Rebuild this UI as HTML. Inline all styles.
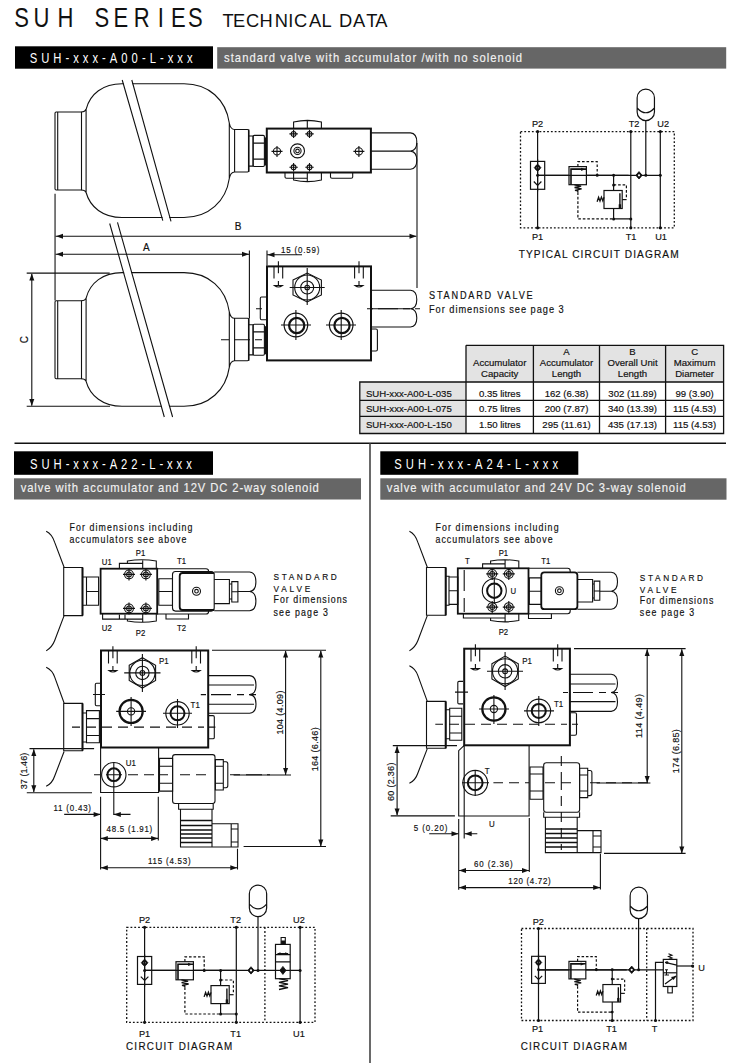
<!DOCTYPE html>
<html><head><meta charset="utf-8"><style>
html,body{margin:0;padding:0;background:#fff;width:748px;height:1063px;overflow:hidden}
svg{display:block;position:absolute;left:0;top:0}
text{font-family:"Liberation Sans",sans-serif;fill:#111;stroke:#111;stroke-width:0.18px;stroke-dasharray:none}
.w{fill:#fff;stroke:none}
.g{fill:#f2f2f2;stroke:#f2f2f2;stroke-width:0.15px}
.ns text{stroke:none}
.ln{stroke:#111;fill:none}
</style></head><body>
<svg width="748" height="1063" viewBox="0 0 748 1063">
<!-- HEADER -->
<g class="ns" font-size="27.5" fill="#111"><text transform="translate(14.3,27.3) scale(0.8,1)">S</text><text transform="translate(33.4,27.3) scale(0.8,1)">U</text><text transform="translate(57.5,27.3) scale(0.8,1)">H</text><text transform="translate(94.6,27.3) scale(0.8,1)">S</text><text transform="translate(113.6,27.3) scale(0.8,1)">E</text><text transform="translate(133.7,27.3) scale(0.8,1)">R</text><text transform="translate(157.7,27.3) scale(0.8,1)">I</text><text transform="translate(171.1,27.3) scale(0.8,1)">E</text><text transform="translate(188.0,27.3) scale(0.8,1)">S</text></g>
<g class="ns" font-size="18.3" fill="#111"><text x="222.5" y="26.6">T</text><text x="232.9" y="26.6">E</text><text x="245.9" y="26.6">C</text><text x="259.4" y="26.6">H</text><text x="274.7" y="26.6">N</text><text x="288.3" y="26.6">I</text><text x="294.1" y="26.6">C</text><text x="309.0" y="26.6">A</text><text x="321.5" y="26.6">L</text><text x="338.9" y="26.6">D</text><text x="352.9" y="26.6">A</text><text x="366.2" y="26.6">T</text><text x="375.2" y="26.6">A</text></g>
<rect x="15" y="46.3" width="198" height="22.4" fill="#000"/>
<text class="w" transform="translate(29.7,63) scale(0.75,1)" font-size="15" textLength="217.1" lengthAdjust="spacing">SUH-xxx-A00-L-xxx</text>
<rect x="217.2" y="47.2" width="509" height="21.4" fill="#666"/>
<text class="g" transform="translate(224,62) scale(0.9,1)" font-size="12.5" textLength="331.1" lengthAdjust="spacing">standard valve with accumulator /with no solenoid</text>


<!-- SECTION 1 DRAWINGS -->
<defs>
<g id="acc">
<path d="M56.2,112 H81.5 V190 H56.2 Q55,190 55,188.8 V113.2 Q55,112 56.2,112 Z M57.7,112 V190"/>
<path d="M81.5,112 Q85,112 86.1,109.3 C90,94 103,83.8 122,83.8 H184 C209,83.8 226,100 229.3,123 Q230.5,129.5 234.6,129.5 H247.5 Q248.7,129.5 248.7,131 V170.5 Q248.7,172 247.5,172 H234.6 Q230.5,172 229.3,178.5 C226,201 209,217.5 184,217.5 H122 C103,217.5 90,207 86.1,192.5 Q85,190 81.5,190 M86.1,109.3 V192.5 M229.3,123 V178.5 M234.6,129.5 V172"/>
<path d="M248.7,136 H253.1 V166.1 H248.7"/><rect x="253.1" y="135.4" width="11.3" height="31.1" rx="1.2"/><path d="M253.1,143.1 H264.4 M253.1,159.1 H264.4"/><path d="M265.6,137.4 V165.5" stroke-width="1.6"/><path d="M248.7,129.5 V172" stroke-width="1.5"/>
</g>
<g id="xh"><circle r="3.6" fill="none"/><path d="M-5.5,0 H5.5 M0,-5.5 V5.5"/></g>
<g id="xhs"><circle r="2.4" fill="none"/><path d="M-4.2,0 H4.2 M0,-4.2 V4.2"/></g>
<g id="drain"><path d="M-4.4,0 V12.6 M4.3,0 V12.6 M0,-4.8 V7.2"/><path d="M0,15 V19 M-4,19.5 Q0,22.5 4,19.5 Z" /></g>
</defs>
<g stroke="#111" stroke-width="1.1" fill="none">
<use href="#acc"/>
<use href="#acc" transform="translate(0,188.8)"/>
<path d="M122.8,80 L131.2,80 L170.4,221.4 L163.4,220.6 Z M110.3,223.5 L116.9,222.4 L172,417 L164.9,417 Z" fill="#fff" stroke="none"/>
<!-- break lines upper -->
<path d="M122.2,80 L162.8,220.6 M131.8,80 L171,221.4" fill="none"/>
<!-- break lines lower -->
<path d="M109.7,223.5 L164.3,417 M117.5,222.4 L172.6,417"/>
</g>
<!-- white masks over body where break lines cross: draw body gap -->
<g stroke="#111" stroke-width="1.1" fill="none">
<!-- upper block -->
<rect x="266.8" y="128.6" width="104.1" height="43.9" stroke-width="2"/>
<path d="M293.6,128.6 V122 Q307.5,118.8 321.4,122 V128.6 M307.3,120 V128.6"/>
<path d="M285,172.5 V177 Q285,178.2 286.5,178.2 H307.3 M293.6,172.5 V180 Q307.5,183.2 321.4,180 V172.5 M307.3,172.5 V181.6 M330.5,172.5 V177 Q330.5,178.2 332,178.2 H351.2 Q352.7,178.2 352.7,177 V172.5"/>
<path d="M370.9,132.9 H410.5 Q416.8,133.5 416.8,142 Q416.8,150.5 410.5,151.1 H370.9 M410.5,151.1 Q416.8,151.7 416.8,160.2 Q416.8,168.7 410.5,169.3 H370.9"/>
<path d="M417,143 V288"/>
<use href="#xhs" x="293.6" y="133.9"/><use href="#xhs" x="309.5" y="133.9"/>
<use href="#xhs" x="293.6" y="167.3"/><use href="#xhs" x="309.5" y="167.3"/>
<use href="#xh" x="277" y="151.4"/><use href="#xh" x="358.9" y="151.4"/>
<circle cx="297.5" cy="150.9" r="7"/><circle cx="297.5" cy="150.9" r="3.6"/><circle cx="297.5" cy="150.9" r="1.8"/>

<!-- dimension lines -->
<path d="M55.05,193.7 V300.5"/>
<path d="M55.5,236.3 H416.3 M55.5,254.2 H249"/>
<path d="M249.4,250.6 V318.6"/>
<path d="M26.7,273.1 H109.7 M26.7,406.3 H110 M31.8,274 V405.5"/>
<path d="M267,250.6 V265.5 M267.5,254.7 H302"/>
</g>
<g fill="#111">
<path d="M56,236.3 L63,233.8 V238.8 Z"/>
<path d="M416.5,236.3 L409.5,233.8 V238.8 Z"/>
<path d="M56,254.2 L63,251.7 V256.7 Z"/>
<path d="M249,254.2 L242,251.7 V256.7 Z"/>
<path d="M267.5,254.7 L274.5,252.2 V257.2 Z"/>
<path d="M31.8,273.5 L29.3,280.5 H34.3 Z"/>
<path d="M31.8,406 L29.3,399 H34.3 Z"/>
</g>
<g font-size="10">
<text x="146.3" y="250.6" text-anchor="middle">A</text>
<text x="238" y="230" text-anchor="middle">B</text>
<text transform="translate(27.8,339.6) rotate(-90)" text-anchor="middle">C</text>
<text transform="translate(281,252.8) scale(0.88,1)" font-size="9" textLength="43.6" lengthAdjust="spacing">15 (0.59)</text>
</g>
<g stroke="#111" stroke-width="1.1" fill="none">
<!-- lower block -->
<rect x="267" y="266.4" width="104" height="94" stroke-width="2"/>
<path d="M266,297 H261.5 Q260.3,297 260.3,298.5 V318.2 Q260.3,319.7 261.5,319.7 H266"/>
<path d="M372,329 H376 Q377.4,329 377.4,330.5 V349.5 Q377.4,351 376,351 H372"/>
<path d="M371,290.3 H410.5 Q416.8,290.9 416.8,299.5 Q416.8,308.2 410.5,308.8 H371 M410.5,308.8 Q416.8,309.4 416.8,318 Q416.8,326.4 410.5,327 H371"/>
<path d="M367,308.8 H373 M378,308.8 H398 M403,308.8 H410 M415,308.8 H420"/>
<path d="M256,308.8 H262 M221,339.7 H229 M234,339.7 H250 M255,339.7 H262"/>
<use href="#drain" x="278.4" y="266"/>
<use href="#drain" x="359" y="266"/>
<path d="M293,280 L307.2,273 L321.4,280 V295 L307.2,302 L293,295 Z"/>
<circle cx="307.2" cy="287.5" r="12.5"/><circle cx="307.2" cy="287.5" r="6.5"/><circle cx="307.2" cy="287.5" r="2.3"/>
<path d="M289.7,287.5 H324.7 M307.2,268 V305"/>
<circle cx="295.9" cy="325" r="11.8" stroke-width="1.2"/><circle cx="296.7" cy="325.5" r="7.6" stroke-width="2.2"/>
<path d="M281,325 H311 M295.9,310 V340"/>
<circle cx="341.2" cy="325" r="11.8" stroke-width="1.2"/><circle cx="342.0" cy="325.5" r="7.6" stroke-width="2.2"/>
<path d="M326,325 H356 M341.2,310 V340"/>
</g>
<g font-size="9.6">
<text transform="translate(429,298.7) scale(0.88,1)" font-size="10.4" textLength="117.8" lengthAdjust="spacing">STANDARD VALVE</text>
<text transform="translate(429,313.2) scale(0.88,1)" font-size="10.5" textLength="153.1" lengthAdjust="spacing">For dimensions see page 3</text>
</g>

<!-- CIRCUITS -->
<defs>
<g id="circL">
<!-- check valve -->
<rect x="-7.1" y="-13.9" width="14.2" height="27.9" fill="#fff"/>
<path d="M0,-11.4 L3.5,-7.6 L0,-3.8 L-3.5,-7.6 Z" fill="#111" stroke-width="0.5"/>
<circle cx="0" cy="-7.6" r="2.6" fill="#111" stroke="none"/><circle cx="0" cy="-7.6" r="1" fill="#fff" stroke="none"/>
<path d="M-3.8,6.2 L0,10 L3.8,6.2" fill="none"/>
<path d="M0,-16 V16"/>
<!-- main line -->
<path d="M0,0 H31.4 M49,0 H91"/>
<!-- relief valve -->
<rect x="31.4" y="-8.7" width="17.4" height="18.1" fill="#fff"/>
<path d="M33.4,9.4 V-6.2 H48.8" stroke-width="1.6"/>
<path d="M34,-6 H45" stroke-width="1"/><path d="M47.5,-6 L43.5,-7.6 V-4.4 Z" fill="#111" stroke="none"/>
<path d="M36.8,9.5 L43.5,10.8 L37,12.2 L44,13.6 L37.4,15 L40.2,15.6 V17" stroke-width="1.3"/>
<g stroke-dasharray="2.6 1.9" stroke-width="1.2">
<path d="M40.3,-8.7 V-13.6 H59.6 V0"/>
<path d="M40.3,17 V43.6 H76"/>
<path d="M76,9.6 H88.8 V22"/>
</g>
<!-- 2nd valve -->
<path d="M76,0 V15.2 M76,33.2 V43.6"/>
<rect x="66.4" y="15.2" width="18.2" height="18" fill="#fff"/>
<path d="M82.3,18 V33" stroke-width="1.4"/><path d="M82.3,29 V33" stroke-width="2.4"/>
<path d="M84.6,24.3 H89"/>
<path d="M59.5,26.5 L61,22 L62.4,25.8 L63.8,21.8 L65.2,25.5 L66.4,22" stroke-width="1.3"/>
<circle cx="59.6" cy="0" r="1.5" fill="#111" stroke="none"/>
<circle cx="76" cy="0" r="1.5" fill="#111" stroke="none"/>
<circle cx="76" cy="9.6" r="1.5" fill="#111" stroke="none"/>
<circle cx="76" cy="43.6" r="1.5" fill="#111" stroke="none"/>
<circle cx="0" cy="0" r="1.5" fill="#111" stroke="none"/>
</g>
<g id="diam"><path d="M0,-3.7 L3.2,0 L0,3.7 L-3.2,0 Z" fill="#111" stroke-width="0.8"/><circle r="2.4" fill="#111" stroke="none"/><circle r="1.1" fill="#fff" stroke="none"/></g>
<g id="accs"><path d="M-8.65,8.7 A8.65,8.65 0 0 1 8.65,8.7 V22.9 A8.65,8.65 0 0 1 -8.65,22.9 Z M-8.65,19 Q0,28.5 8.65,19" fill="#fff"/></g>
</defs>
<g stroke="#111" stroke-width="1.2" fill="none">
<!-- C1 -->
<rect x="520.5" y="131.6" width="153.8" height="96.2" stroke-dasharray="1.8 2" stroke-width="1.3"/>
<use href="#circL" transform="translate(537.6,175.3)"/>
<path d="M537.6,131.6 V227.8 M630.8,131.6 V227.8 M660.3,131.6 V227.8 M613.6,218.9 H630.8 M537.6,175.3 H660.3"/>
<use href="#diam" x="639" y="175.3"/>
<path d="M645.8,120.6 V175.3"/>
<use href="#accs" x="645.8" y="89"/>
<g fill="#111" stroke="none">
<circle cx="537.6" cy="131.6" r="1.6"/><circle cx="537.6" cy="227.8" r="1.6"/>
<circle cx="630.8" cy="131.6" r="1.6"/><circle cx="630.8" cy="227.8" r="1.6"/><circle cx="630.8" cy="218.9" r="1.5"/>
<circle cx="660.3" cy="131.6" r="1.6"/><circle cx="660.3" cy="227.8" r="1.6"/><circle cx="660.3" cy="175.3" r="1.5"/>
<circle cx="645.8" cy="175.3" r="1.5"/>
</g>
</g>
<g font-size="9.2" text-anchor="middle" fill="#111">
<text x="537.6" y="127.3">P2</text><text x="634" y="127.3">T2</text><text x="663.2" y="127.3">U2</text>
<text x="537.6" y="240">P1</text><text x="631" y="240">T1</text><text x="661" y="240">U1</text>
</g>
<text transform="translate(518.7,257.8) scale(0.88,1)" font-size="11.5" textLength="181.8" lengthAdjust="spacing">TYPICAL CIRCUIT DIAGRAM</text>

<!-- SECTION 2 DRAWINGS -->
<defs>
<g id="bolt"><circle r="4.4"/><circle r="2.4"/><path d="M-6,0 H6 M0,-6 V6"/></g>
<g id="arrR"><path d="M0,0 L-7,-2.5 V2.5 Z" fill="#111" stroke="none"/></g>
<g id="arrL"><path d="M0,0 L7,-2.5 V2.5 Z" fill="#111" stroke="none"/></g>
<g id="arrU"><path d="M0,0 L-2.5,7 H2.5 Z" fill="#111" stroke="none"/></g>
<g id="arrD"><path d="M0,0 L-2.5,-7 H2.5 Z" fill="#111" stroke="none"/></g>
</defs>
<g stroke="#111" stroke-width="1.1" fill="none">
<!-- plan view -->
<path d="M46.2,531.2 C50,533 53,537 54.7,542.4 L64.1,567.2 M64.1,615.6 L54.7,640.5 C53,645 50,648.5 46.2,650.9"/>
<path d="M63.7,567.5 H82.5 V615.6 H63.7 Z"/><path d="M82.5,567.5 V615.6" stroke-width="2"/>
<path d="M82.5,577 H98.6 V605.2 H82.5 M86.5,577 V605.2 M86.5,591.5 H98.6"/>
<rect x="100.6" y="568.7" width="56.6" height="45" stroke-width="1.8"/>
<path d="M119.4,568.7 V563.4 H142.7 V568.7 M127.4,563.4 V561 Q141.8,558.6 156.3,561 V568.7 M142.7,560 V568.7"/>
<path d="M102.6,613.7 V619.1 H142.7 V613.7 M127.4,619.1 V621 Q141.8,623.6 156.3,621 V613.7 M142.7,613.7 V622.5 M119.4,614.5 V619 H125 V614.5"/>
<use href="#bolt" x="129" y="574.4"/><use href="#bolt" x="145.9" y="574.4"/>
<use href="#bolt" x="129" y="608.4"/><use href="#bolt" x="145.9" y="608.4"/>
<path d="M157.2,568.7 H206 Q208.6,568.7 208.6,571.3 V611.4 Q208.6,614 206,614 H157.2"/>
<path d="M158.8,578.7 H172.5 V605.2 H158.8 Z M158.8,591.5 H172.5"/>
<rect x="172.5" y="571.5" width="41.7" height="39.6" rx="3" fill="#fff"/>
<path d="M214.2,573 H182.5 Q179.7,573 179.7,576 V607 Q179.7,610 182.5,610 H214.2" stroke-width="1.8"/>
<circle cx="196.5" cy="591.2" r="4"/><circle cx="196.5" cy="591.2" r="1.8"/>
<path d="M214.2,572 H249.6 Q255.9,572.6 255.9,581.8 Q255.9,590.9 249.6,591.5 H237.9 M249.6,591.5 Q255.9,592.1 255.9,601.1 Q255.9,610.2 249.6,610.8 H214.2"/>
<path d="M214.2,579.5 H229.4 V603.6 H214.2 M231.8,581.6 H237.9 V602 H231.8 Z M229.4,584 H231.8 M229.4,599 H231.8 M231.8,591.8 H237.9"/>
<path d="M166,614 V619 H188.5 V614"/>
</g>
<g font-size="8.8" fill="#111">
<text transform="translate(101.8,565) scale(0.88,1)">U1</text>
<text transform="translate(135.8,555.9) scale(0.88,1)">P1</text>
<text transform="translate(177,564) scale(0.88,1)">T1</text>
<text transform="translate(101.8,630.8) scale(0.88,1)">U2</text>
<text transform="translate(135.8,635.6) scale(0.88,1)">P2</text>
<text transform="translate(177,630.8) scale(0.88,1)">T2</text>
</g>
<g font-size="10" fill="#111">
<text transform="translate(69.4,531) scale(0.88,1)" textLength="139.8" lengthAdjust="spacing">For dimensions including</text>
<text transform="translate(69.4,543) scale(0.88,1)" textLength="133.0" lengthAdjust="spacing">accumulators see above</text>
<text transform="translate(273.5,580) scale(0.88,1)" font-size="9.4" textLength="71.9" lengthAdjust="spacing">STANDARD</text>
<text transform="translate(273.5,591.8) scale(0.88,1)" font-size="9.4" textLength="41.8" lengthAdjust="spacing">VALVE</text>
<text transform="translate(273.5,603.3) scale(0.88,1)" textLength="83.5" lengthAdjust="spacing">For dimensions</text>
<text transform="translate(273.5,615.7) scale(0.88,1)" textLength="61.7" lengthAdjust="spacing">see page 3</text>
</g>
<g stroke="#111" stroke-width="1.1" fill="none">
<!-- elevation -->
<path d="M46.2,667.2 C50,669 53,672 54.7,677.1 L64.1,703 M64.1,751.5 L54.7,776 C53,781 50,784.5 46.2,786.3"/>
<path d="M63.7,703.4 H82.5 V750.7 H63.7 Z"/><path d="M82.5,703.4 V750.7" stroke-width="2"/>
<path d="M82.5,713 H86.5 V742 H82.5 M86.5,710.6 H99.4 V742.7 H86.5 Z M86.5,718.6 H99.4 M86.5,735.5 H99.4"/>
<rect x="101" y="650.5" width="107.2" height="97" stroke-width="2"/>
<path d="M100,683.3 H96.5 Q95.3,683.3 95.3,684.5 V704.6 Q95.3,705.8 96.5,705.8 H100 M93,694.5 H105"/>
<use href="#drain" x="112.9" y="651"/>
<use href="#drain" x="196.2" y="651"/>
<path d="M129.2,665.3 L142.4,657.7 L155.6,665.3 V680.5 L142.4,688.1 L129.2,680.5 Z"/>
<circle cx="142.4" cy="672.9" r="12.6"/><circle cx="142.4" cy="672.9" r="6.7"/><circle cx="142.4" cy="672.9" r="2.4"/>
<path d="M124.2,672.9 H160.5 M142.4,654 V692"/>
<circle cx="131.1" cy="711.4" r="11.6" stroke-width="2.2"/><circle cx="131.1" cy="711.4" r="3.6"/>
<path d="M116.2,711.4 H146 M131.1,697 V726"/>
<circle cx="177.5" cy="713.3" r="11.7"/><circle cx="177.5" cy="713.3" r="7" stroke-width="2"/>
<path d="M163,713.3 H192 M177.5,699 V728"/>
<path d="M72,727.1 H80 M86,727.1 H96 M102,727.1 H112 M118,727.1 H128 M134,727.1 H144 M150,727.1 H160 M166,727.1 H176 M182,727.1 H192 M198,727.1 H204 M209,727.1 H215.4"/>
<path d="M208.2,675.6 H249.7 Q256,676.2 256,685 Q256,694 249.7,694.6 Q256,695.2 256,704 Q256,712.7 249.7,713.3 H208.2 M208.2,685 H254 M208.2,704.3 H254"/>
<path d="M200.8,694.6 H206 M211,694.6 H231 M237,694.6 H244 M249,694.6 H256"/>
<path d="M209,715.6 H213 Q214.3,715.6 214.3,717 V737.5 Q214.3,738.8 213,738.8 H209"/>
<path d="M100.6,747.5 V792.5 H158.6 V747.5"/>
<circle cx="113.8" cy="774.7" r="12.2"/><circle cx="113.8" cy="774.7" r="6.4" stroke-width="2"/>
<path d="M113.8,762 V814.9"/>
<path d="M94,774.7 H100 M106,774.7 H122 M128,774.7 H138 M144,774.7 H154 M160,774.7 H168 M180,774.7 H190 M196,774.7 H206 M230,774.7 H240 M246,774.7 H262 M267,774.7 H270"/>
<path d="M159.5,758.4 H172.6 V791.1 H159.5 Z M159.5,766.3 H172.6 M159.5,783.2 H172.6"/>
<rect x="172.6" y="754.6" width="42.4" height="48.9" rx="2.5" fill="none"/>
<path d="M215.4,759.6 H223.3 V790 H215.4 Z M215.4,766.3 H223.3 M215.4,783.2 H223.3 M223.3,761.8 H226 Q227.8,761.8 227.8,764 V785.6 Q227.8,787.8 226,787.8 H223.3"/>
<path d="M178.6,803.5 V809.2 H213.2 V803.5 M180.5,809.2 V847 H231.2 V823.8 H212 M212,809.2 V847 M231.2,823.8 H238 V847 H231.2 M231.2,829 H238 M231.2,842 H238"/>
<path d="M180.5,820.5 H212 M180.5,825.5 H212 M180.5,830 H212 M180.5,834 H212 M180.5,838 H212 M180.5,842.5 H212" stroke-width="1.5"/>
<!-- dims -->
<path d="M29.5,748.6 H94.1 M26.8,792.8 H92 M33.8,749.5 V792"/>
<path d="M64.2,814.4 H100 M113.8,814.4 H130.5"/>
<path d="M100.6,796.7 V869.4 M158.3,796.7 V840.5 M237.5,848.7 V869.4 M101,838.4 H158 M101,867.7 H237"/>
<path d="M212,650.3 H326 M233.6,775 H291 M243.6,846.5 H326 M285.6,651 V774.5 M320.8,651 V846"/>
</g>
<g>
<use href="#arrU" x="33.8" y="749"/><use href="#arrD" x="33.8" y="792.3"/>
<use href="#arrR" x="100.6" y="814.4"/><use href="#arrL" x="113.8" y="814.4"/>
<use href="#arrL" x="100.8" y="838.4"/><use href="#arrR" x="158.1" y="838.4"/>
<use href="#arrL" x="100.8" y="867.7"/><use href="#arrR" x="237.3" y="867.7"/>
<use href="#arrU" x="285.6" y="650.5"/><use href="#arrD" x="285.6" y="775"/>
<use href="#arrU" x="320.8" y="650.5"/><use href="#arrD" x="320.8" y="846.5"/>
</g>
<g font-size="9" fill="#111">
<text transform="translate(159,664.4) scale(0.88,1)">P1</text>
<text transform="translate(190.6,707.7) scale(0.88,1)">T1</text>
<text transform="translate(125.8,765.7) scale(0.88,1)">U1</text>
<text transform="translate(53.5,810.6) scale(0.88,1)" textLength="42.6" lengthAdjust="spacing">11 (0.43)</text>
<text transform="translate(106.6,832.4) scale(0.88,1)" textLength="51.9" lengthAdjust="spacing">48.5 (1.91)</text>
<text transform="translate(148,863.6) scale(0.88,1)" textLength="48.4" lengthAdjust="spacing">115 (4.53)</text>
<text transform="translate(27.2,771) rotate(-90)" text-anchor="middle" textLength="36.4" lengthAdjust="spacing">37 (1.46)</text>
<text transform="translate(283.3,712.6) rotate(-90)" text-anchor="middle" textLength="44" lengthAdjust="spacing">104 (4.09)</text>
<text transform="translate(317.7,749.3) rotate(-90)" text-anchor="middle" textLength="44" lengthAdjust="spacing">164 (6.46)</text>
</g>
<!-- CIRCUIT 2 -->
<g stroke="#111" stroke-width="1.2" fill="none">
<rect x="126.7" y="927.3" width="188.3" height="95" stroke-dasharray="1.8 2" stroke-width="1.3"/>
<path d="M264.9,927.3 V1022.3" stroke-dasharray="1.8 2" stroke-width="1.3"/>
<use href="#circL" transform="translate(144.6,970.4)"/>
<path d="M144.6,927.3 V1022.3 M236.3,927.3 V1022.3 M300.1,927.3 V1022.3 M144.6,970.4 H300.1 M220.6,1014 H236.3"/>
<use href="#diam" x="251" y="970.4"/>
<path d="M258,915.9 V970.4"/>
<use href="#accs" x="258" y="885.1"/>
<rect x="275.5" y="944.4" width="14.7" height="34.3" fill="#fff"/>
<path d="M275.5,961.8 H290.2 M275.5,954.6 H290.2 M277.5,953.6 H288.2"/>
<path d="M281.1,944.4 V937.5 H285.3 V944.4" stroke-width="1.1"/><rect x="281.1" y="940.5" width="4.2" height="4" fill="#111" stroke="none"/>
<path d="M277.3,950.3 H290 M277.3,957 H290" stroke="none"/>
<path d="M282.9,966.4 L286,970.4 L282.9,974.4 L279.8,970.4 Z" fill="#111" stroke-width="0.8"/>
<path d="M275.5,970.4 H290.2"/>
<path d="M279,978.7 L288,980.5 L279,982.3 L288,984.1 L279,985.9 L288,987.7 L279,989.5" stroke-width="1.3"/>
<g fill="#111" stroke="none">
<path d="M277.5,953.6 L280.5,952.2 V955 Z M288.2,953.6 L285.2,952.2 V955 Z"/>
<circle cx="144.6" cy="927.3" r="1.6"/><circle cx="144.6" cy="1022.3" r="1.6"/>
<circle cx="236.3" cy="927.3" r="1.6"/><circle cx="236.3" cy="1022.3" r="1.6"/><circle cx="236.3" cy="1014" r="1.5"/>
<circle cx="300.1" cy="927.3" r="1.6"/><circle cx="300.1" cy="1022.3" r="1.6"/><circle cx="300.1" cy="970.4" r="1.5"/>
<circle cx="258" cy="970.4" r="1.5"/>
</g>
</g>
<g font-size="9.2" text-anchor="middle" fill="#111">
<text x="144.6" y="922.7">P2</text><text x="235.7" y="922.7">T2</text><text x="298.9" y="922.7">U2</text>
<text x="144.6" y="1037">P1</text><text x="235.7" y="1037">T1</text><text x="298.9" y="1037">U1</text>
</g>
<text transform="translate(126,1049.7) scale(0.88,1)" font-size="11.2" textLength="120.7" lengthAdjust="spacing">CIRCUIT DIAGRAM</text>

<!-- SECTION 3 DRAWINGS -->
<g stroke="#111" stroke-width="1.1" fill="none">
<!-- plan view -->
<path d="M409.4,531.2 C413.2,533 416.2,537 417.9,542.4 L427.3,567.2 M427.3,615.6 L417.9,640.5 C416.2,645 413.2,648.5 409.4,650.9"/>
<path d="M426.5,567.5 H445.7 V615.3 H426.5 Z"/><path d="M445.7,567.5 V615.3" stroke-width="2"/>
<path d="M445.7,576.3 H449 V605.2 H445.7 M449,577 H457.8 V604.4 H449 Z M449,590.7 H457.8"/>
<rect x="457.8" y="568.3" width="70.7" height="45.4" stroke-width="1.8"/>
<path d="M464.2,570 V591 M464.2,598 V612"/>
<path d="M482.6,568.3 V563.9 H505.1 V568.3 M490.6,563.9 V561 Q504.7,558.5 518.8,561 V568.3 M505.1,560 V568.3"/>
<path d="M463.4,613.7 V618 H505.1 V613.7 M490.6,618 V620.5 Q504.7,623.3 518.8,620.5 V613.7 M505.1,613.7 V622"/>
<use href="#bolt" x="492.2" y="573.9"/><use href="#bolt" x="508.8" y="573.9"/>
<use href="#bolt" x="492.2" y="607.1"/><use href="#bolt" x="508.8" y="607.1"/>
<circle cx="494.3" cy="590.7" r="12"/><circle cx="494.3" cy="590.7" r="7.2" stroke-width="2"/>
<path d="M494.3,578 V604"/>
<path d="M528.5,568.3 H567.6 Q570.2,568.3 570.2,571 V611 Q570.2,613.7 567.6,613.7 H528.5"/>
<path d="M529.3,577.9 H541.3 V604.4 H529.3 Z M529.3,591.2 H541.3"/>
<rect x="541.3" y="572.3" width="36.1" height="36.9" rx="3" stroke-width="1.8" fill="#fff"/>
<circle cx="559.4" cy="590.7" r="4"/><circle cx="559.4" cy="590.7" r="1.8"/>
<path d="M577.4,572.3 H611.2 Q617.5,572.9 617.5,581.8 Q617.5,590.6 611.2,591.2 H599.8 M611.2,591.2 Q617.5,591.8 617.5,600.2 Q617.5,608.6 611.2,609.2 H577.4"/>
<path d="M577.4,579.5 H592.6 V602 H577.4 M594.2,581.1 H599.8 V600.3 H594.2 Z M592.6,584 H594.2 M592.6,598 H594.2 M594.2,591 H599.8"/>
<path d="M528.5,613.7 V618.5 H551.4 V613.7"/>
</g>
<g font-size="8.8" fill="#111">
<text transform="translate(465,564) scale(0.88,1)">T</text>
<text transform="translate(498.7,555.9) scale(0.88,1)">P1</text>
<text transform="translate(510.4,594.4) scale(0.88,1)">U</text>
<text transform="translate(541.3,564) scale(0.88,1)">T1</text>
<text transform="translate(498.7,634.8) scale(0.88,1)">P2</text>
</g>
<g font-size="10" fill="#111">
<text transform="translate(435.5,531) scale(0.88,1)" textLength="139.8" lengthAdjust="spacing">For dimensions including</text>
<text transform="translate(435.5,543) scale(0.88,1)" textLength="133.0" lengthAdjust="spacing">accumulators see above</text>
<text transform="translate(639.8,581) scale(0.88,1)" font-size="9.4" textLength="71.9" lengthAdjust="spacing">STANDARD</text>
<text transform="translate(639.8,592.8) scale(0.88,1)" font-size="9.4" textLength="41.8" lengthAdjust="spacing">VALVE</text>
<text transform="translate(639.8,603.9) scale(0.88,1)" textLength="83.5" lengthAdjust="spacing">For dimensions</text>
<text transform="translate(639.8,616.3) scale(0.88,1)" textLength="61.7" lengthAdjust="spacing">see page 3</text>
</g>
<g stroke="#111" stroke-width="1.1" fill="none">
<!-- elevation -->

<path d="M409.4,665.7 C413.2,667.5 416.2,670.5 417.9,675.6 L427.3,701.4 M427.3,748.6 L417.9,773 C416.2,778 413.2,781.5 409.4,783.3"/>
<path d="M426.5,701.4 H445.7 V748.3 H426.5 Z"/><path d="M445.7,701.4 V748.3" stroke-width="2"/>
<path d="M445.7,709.8 H449.7 V738.7 H445.7 M449.7,708.2 H461.8 V740.3 H449.7 Z M449.7,716.2 H461.8 M449.7,733 H461.8"/>
<rect x="464.2" y="648.7" width="105.7" height="96.6" stroke-width="2"/>
<path d="M463,681.4 H459 Q457.8,681.4 457.8,682.6 V702.7 Q457.8,703.9 459,703.9 H463 M455,692.1 H468"/>
<use href="#drain" x="475.4" y="649"/>
<use href="#drain" x="557.7" y="649"/>
<path d="M491.9,663.7 L505.1,656.1 L518.3,663.7 V678.9 L505.1,686.5 L491.9,678.9 Z"/>
<circle cx="505.1" cy="671.3" r="12.6"/><circle cx="505.1" cy="671.3" r="6.7"/><circle cx="505.1" cy="671.3" r="2.4"/>
<path d="M487,671.3 H523 M505.1,652 V690"/>
<circle cx="493.9" cy="709" r="11.6" stroke-width="2.2"/><circle cx="493.9" cy="709" r="3.6"/>
<path d="M479,709 H509 M493.9,695 V724"/>
<circle cx="538.8" cy="710.9" r="11.8"/><circle cx="538.8" cy="710.9" r="7" stroke-width="2"/>
<path d="M524,710.9 H554 M538.8,696 V726"/>
<path d="M435.3,724.2 H443 M449,724.2 H459 M465,724.2 H475 M481,724.2 H491 M497,724.2 H507 M513,724.2 H523 M529,724.2 H539 M545,724.2 H555 M561,724.2 H567 M572,724.2 H578"/>
<path d="M569.9,674.2 H611.2 Q617.5,674.8 617.5,683.3 Q617.5,691.9 611.2,692.5 Q617.5,693.1 617.5,702 Q617.5,710.8 611.2,711.4 H569.9 M569.9,684 H615.5 M569.9,701.6 H615.5"/>
<path d="M563,692.5 H568 M573,692.5 H593 M599,692.5 H606 M611,692.5 H618"/>
<path d="M571,712.8 H575 Q576.5,712.8 576.5,714.3 V733.8 Q576.5,735.3 575,735.3 H571"/>
<path d="M464.2,745.3 L458.7,750.7 V816 H529.1 V745.3 M464.2,745.3 V838.4"/>
<circle cx="475.2" cy="782.8" r="12.4"/><circle cx="475.2" cy="782.8" r="7.4" stroke-width="2"/>
<path d="M462,782.8 H489 M475.2,770 V796"/>
<path d="M493.4,782.8 H503 M509,782.8 H519 M525,782.8 H529 M545,782.8 H555 M561,782.8 H571 M590,782.8 H600 M606,782.8 H616 M622,782.8 H632 M638,782.8 H648"/>
<path d="M561.3,756 V766 M561.3,772 V790 M561.3,796 V806 M561.3,812 V822 M561.3,828 V838 M561.3,844 V850"/>
<path d="M530,767 H543 V799.3 H530 Z M530,774 H543 M530,791 H543"/>
<rect x="543.7" y="762.7" width="35.9" height="49.6" rx="2.5"/>
<path d="M579.6,768.3 H587.7 V797.6 H579.6 Z M579.6,775 H587.7 M579.6,791 H587.7 M587.7,770.5 H590 Q591.9,770.5 591.9,772.5 V793.6 Q591.9,795.6 590,795.6 H587.7"/>
<path d="M543.7,812.3 V817.2 H579.6 V812.3 M545.4,817.2 V852.6 H593 V830.6 H577.2 M577.2,817.2 V852.6 M593,830.6 H601 V852.6 H593 M593,836 H601 M593,847 H601"/>
<path d="M545.4,829 H577.2 M545.4,833.5 H577.2 M545.4,838 H577.2 M545.4,842.5 H577.2 M545.4,847 H577.2" stroke-width="1.5"/>
<!-- dims -->
<path d="M392.8,745.6 H457 M390.7,815.9 H454.9 M397.1,746.5 V815"/>
<path d="M429.2,833.7 H458.5 M464.5,833.7 H477.3"/>
<path d="M458.7,819 V889.7 M529.3,818 V872 M600.4,853.8 V889.5 M459,870.5 H529 M459,887.6 H600"/>
<path d="M574,648.6 H685.6 M596.6,783 H650.4 M604,853.4 H685.6 M647.2,649.5 V782.5 M681.8,649.5 V853"/>
</g>
<g>
<use href="#arrU" x="397.1" y="746"/><use href="#arrD" x="397.1" y="815.4"/>
<use href="#arrR" x="458.5" y="833.7"/><use href="#arrL" x="464.7" y="833.7"/>
<use href="#arrL" x="459" y="870.5"/><use href="#arrR" x="529" y="870.5"/>
<use href="#arrL" x="459" y="887.6"/><use href="#arrR" x="600.2" y="887.6"/>
<use href="#arrU" x="647.2" y="649"/><use href="#arrD" x="647.2" y="783"/>
<use href="#arrU" x="681.8" y="649"/><use href="#arrD" x="681.8" y="853.4"/>
</g>
<g font-size="9" fill="#111">
<text transform="translate(522.2,664.4) scale(0.88,1)">P1</text>
<text transform="translate(554,707.2) scale(0.88,1)">T1</text>
<text transform="translate(484.8,774.2) scale(0.88,1)">T</text>
<text transform="translate(489,826.6) scale(0.88,1)">U</text>
<text transform="translate(413.8,830.9) scale(0.88,1)" textLength="38.2" lengthAdjust="spacing">5 (0.20)</text>
<text transform="translate(474.1,867.3) scale(0.88,1)" textLength="43.8" lengthAdjust="spacing">60 (2.36)</text>
<text transform="translate(508.3,883.7) scale(0.88,1)" textLength="48.2" lengthAdjust="spacing">120 (4.72)</text>
<text transform="translate(394.1,781.8) rotate(-90)" text-anchor="middle" textLength="38.5" lengthAdjust="spacing">60 (2.36)</text>
<text transform="translate(642.4,716) rotate(-90)" text-anchor="middle" textLength="44" lengthAdjust="spacing">114 (4.49)</text>
<text transform="translate(678.6,751.2) rotate(-90)" text-anchor="middle" textLength="44" lengthAdjust="spacing">174 (6.85)</text>
</g>
<!-- CIRCUIT 3 -->
<g stroke="#111" stroke-width="1.2" fill="none">
<rect x="521.5" y="928.5" width="171.5" height="92" stroke-dasharray="1.8 2" stroke-width="1.3"/>
<path d="M646.7,928.5 V1020.5" stroke-dasharray="1.8 2" stroke-width="1.3"/>
<g transform="translate(538.5,969.8) scale(0.97)">
<use href="#circL"/>
</g>
<path d="M538.5,928.5 V1020.5 M538.5,969.8 H667 M612.2,1012 V1020.5"/>
<use href="#diam" x="631.7" y="969.8"/>
<path d="M638.6,917.1 V969.8"/>
<use href="#accs" x="638.8" y="887"/>
<path d="M655.5,1020.5 V962.4 H663.3"/>
<rect x="663.3" y="959.4" width="13.5" height="27.1" fill="#fff"/>
<path d="M663.3,972.8 H676.8"/>
<path d="M665,962.4 L676.8,965.2 M665,984 L676,976" stroke-width="1.2"/>
<path d="M665,969.8 H668 M666.5,969.8 V975 M664.5,975 H669" stroke-width="1"/>
<path d="M676.8,966 H692.6"/>
<path d="M668.5,959.4 L672,958 L668.5,956.6 L672,955.2 L668.5,953.8" stroke-width="1.1"/>
<rect x="667.8" y="986.5" width="4.5" height="6.4" stroke-width="1.1"/>
<g fill="#111" stroke="none">
<circle cx="538.5" cy="928.5" r="1.6"/><circle cx="538.5" cy="1020.5" r="1.6"/>
<circle cx="612.2" cy="1020.5" r="1.6"/><circle cx="655.5" cy="1020.5" r="1.6"/>
<circle cx="692.6" cy="966" r="1.6"/><circle cx="638.6" cy="969.8" r="1.5"/>
<circle cx="667" cy="962.6" r="1.4"/>
<path d="M676.5,976 L671,977 L673.5,980 Z"/>
</g>
</g>
<g font-size="9.2" text-anchor="middle" fill="#111">
<text x="538.3" y="925">P2</text>
<text x="537.5" y="1031.5">P1</text><text x="611.5" y="1031.5">T1</text><text x="654.5" y="1031.5">T</text>
<text x="701.6" y="970.5">U</text>
</g>
<text transform="translate(520.7,1049.7) scale(0.88,1)" font-size="11.2" textLength="120.7" lengthAdjust="spacing">CIRCUIT DIAGRAM</text>

<!-- TABLE -->
<rect x="466" y="345.3" width="257.6" height="36.7" fill="#e3e3e3"/>
<rect x="359.8" y="382" width="106.2" height="51.5" fill="#e3e3e3"/>
<g stroke="#111" stroke-width="1.3" fill="none">
<path d="M466 345.3H723.6V433.5H359.8V382H723.6M359.8 400.3H723.6M359.8 416.4H723.6M466 345.3V433.5M533.4 345.3V433.5M599.5 345.3V433.5M665.6 345.3V433.5"/>
</g>
<g font-size="9.6" text-anchor="middle">
<text x="499.7" y="366">Accumulator</text><text x="499.7" y="377">Capacity</text>
<text x="566.5" y="355">A</text><text x="566.5" y="366">Accumulator</text><text x="566.5" y="377">Length</text>
<text x="632.5" y="355">B</text><text x="632.5" y="366">Overall Unit</text><text x="632.5" y="377">Length</text>
<text x="694.6" y="355">C</text><text x="694.6" y="366">Maximum</text><text x="694.6" y="377">Diameter</text>
<text x="499.7" y="396.7">0.35 litres</text><text x="566.5" y="396.7">162 (6.38)</text><text x="632.5" y="396.7">302 (11.89)</text><text x="694.6" y="396.7">99 (3.90)</text>
<text x="499.7" y="411.6">0.75 litres</text><text x="566.5" y="411.6">200 (7.87)</text><text x="632.5" y="411.6">340 (13.39)</text><text x="694.6" y="411.6">115 (4.53)</text>
<text x="499.7" y="427.6">1.50 litres</text><text x="566.5" y="427.6">295 (11.61)</text><text x="632.5" y="427.6">435 (17.13)</text><text x="694.6" y="427.6">115 (4.53)</text>
</g>
<g font-size="9.6">
<text x="365.9" y="396.7">SUH-xxx-A00-L-035</text>
<text x="365.9" y="411.6">SUH-xxx-A00-L-075</text>
<text x="365.9" y="427.6">SUH-xxx-A00-L-150</text>
</g>

<!-- SECTION DIVIDERS -->
<line x1="14.5" y1="443.3" x2="726" y2="443.3" stroke="#111" stroke-width="1.5"/>
<line x1="370" y1="443.3" x2="370" y2="1063" stroke="#444" stroke-width="1.6"/>
<rect x="14" y="451.3" width="199" height="23.5" fill="#000"/>
<text class="w" transform="translate(30.1,468.5) scale(0.75,1)" font-size="15" textLength="215.6" lengthAdjust="spacing">SUH-xxx-A22-L-xxx</text>
<rect x="14" y="478.3" width="347" height="21.2" fill="#666"/>
<text class="g" transform="translate(20.7,492.3) scale(0.9,1)" font-size="12.5" textLength="331.3" lengthAdjust="spacing">valve with accumulator and 12V DC 2-way solenoid</text>
<rect x="380.3" y="451.3" width="198" height="23.5" fill="#000"/>
<text class="w" transform="translate(394.3,468.5) scale(0.75,1)" font-size="15" textLength="218.3" lengthAdjust="spacing">SUH-xxx-A24-L-xxx</text>
<rect x="380.3" y="478.3" width="346.2" height="21.4" fill="#666"/>
<text class="g" transform="translate(386.7,492.3) scale(0.9,1)" font-size="12.5" textLength="332.2" lengthAdjust="spacing">valve with accumulator and 24V DC 3-way solenoid</text>
</svg>
</body></html>
